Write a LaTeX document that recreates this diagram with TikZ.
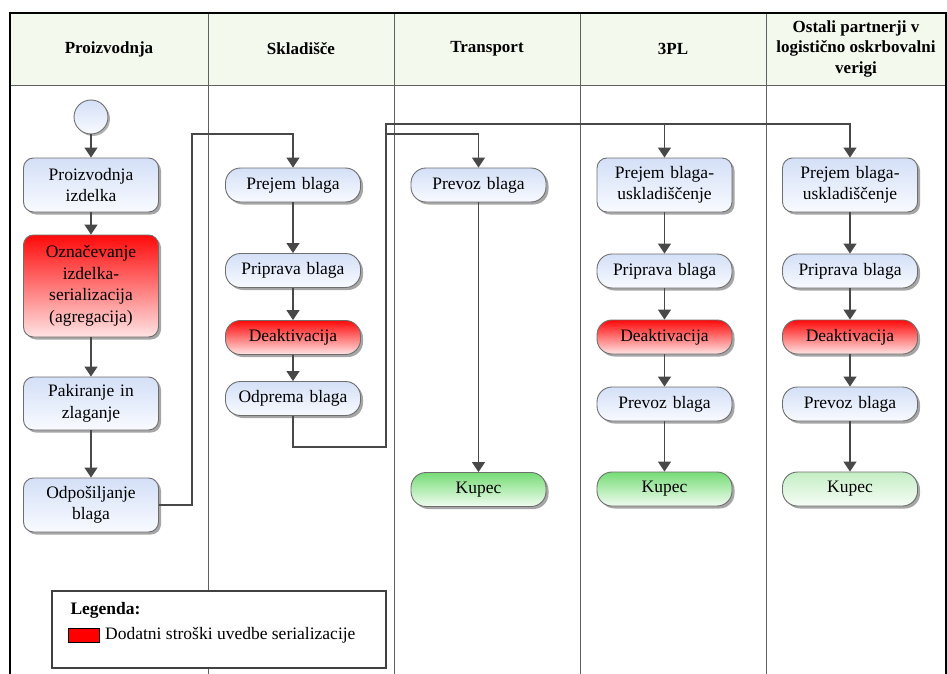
\documentclass[tikz,border=0pt]{standalone}
\usepackage{fontspec}
\setmainfont{Liberation Serif}
\usetikzlibrary{arrows.meta,shadows}

\definecolor{lanegray}{RGB}{96,96,96}
\definecolor{flowgray}{RGB}{72,72,72}
\definecolor{boxedge}{RGB}{110,110,110}
\definecolor{headfill}{RGB}{243,250,237}
\definecolor{bluetop}{RGB}{212,224,247}
\definecolor{bluebot}{RGB}{248,250,255}
\definecolor{redtop}{RGB}{255,10,10}
\definecolor{redbot}{RGB}{255,228,228}
\definecolor{greentop}{RGB}{118,220,118}
\definecolor{greenbot}{RGB}{240,252,240}
\definecolor{palegreentop}{RGB}{196,238,196}
\definecolor{palegreenbot}{RGB}{246,253,246}

\tikzset{
  every node/.style={font=\fontsize{17.5}{21.5}\selectfont},
  task/.style={draw=boxedge, line width=0.9pt, align=center, inner sep=0pt,
    minimum width=135pt, text width=132pt,
    drop shadow={shadow xshift=2.5pt, shadow yshift=-2.5pt, opacity=0.35, fill=black}},
  pill/.style={task, rounded corners=15pt, minimum height=34pt},
  tall/.style={task, rounded corners=10pt},
  bluefill/.style={top color=bluetop, bottom color=bluebot},
  redfill/.style={top color=redtop, bottom color=redbot},
  greenfill/.style={top color=greentop, bottom color=greenbot},
  palegreenfill/.style={top color=palegreentop, bottom color=palegreenbot},
  startnode/.style={circle, draw=boxedge, line width=0.9pt, minimum size=34pt, inner sep=0pt,
    top color=bluetop, bottom color=bluebot,
    drop shadow={shadow xshift=2pt, shadow yshift=-2pt, opacity=0.3, fill=black}},
  flow/.style={draw=flowgray, line width=1.3pt, -{Triangle[length=10pt,width=13pt]}},
  lane/.style={draw=lanegray, line width=0.9pt},
  header/.style={font=\fontsize{17}{20.5}\selectfont\bfseries, align=center},
}

\begin{document}
\begin{tikzpicture}[x=1pt, y=-1pt]
  \useasboundingbox (0,0) rectangle (947,674);
  \fill[white] (0,0) rectangle (947,674);

  % header band
  \fill[headfill] (10,13) rectangle (946,85);
  \draw[lane] (10,85) -- (946,85);

  % lane dividers
  \foreach \x in {208,394,580,766} \draw[lane] (\x,13) -- (\x,674);

  % outer frame
  \draw[black, line width=2pt] (10,680) -- (10,13) -- (946,13) -- (946,680);

  % lane titles
  \node[header] (h1) at (109,49) {Proizvodnja};
  \node[header] (h2) at (301,49) {Skladišče};
  \node[header] (h3) at (487,49) {Transport};
  \node[header] (h4) at (673,49) {3PL};
  \node[header] (h5) at (856,48.5) {Ostali partnerji v\\logistično oskrbovalni\\verigi};

  % Proizvodnja
  \node[startnode] (start) at (91,117) {};
  \node[tall, bluefill, minimum height=54pt] (n1) at (91,185) {Proizvodnja\\izdelka};
  \node[tall, redfill, minimum height=102pt] (n2) at (91,286) {Označevanje\\izdelka-\\serializacija\\(agregacija)};
  \node[tall, bluefill, minimum height=53pt] (n3) at (91,403.5) {Pakiranje in\\zlaganje};
  \node[tall, bluefill, minimum height=54pt] (n4) at (91,505) {Odpošiljanje\\blaga};

  % Skladišče
  \node[pill, bluefill] (s1) at (293,185) {Prejem blaga};
  \node[pill, bluefill] (s2) at (293,270.5) {Priprava blaga};
  \node[pill, redfill] (s3) at (293,337.5) {Deaktivacija};
  \node[pill, bluefill] (s4) at (293,398.5) {Odprema blaga};

  % Transport
  \node[pill, bluefill] (t1) at (478.5,185) {Prevoz blaga};
  \node[pill, greenfill] (t2) at (478.5,489.5) {Kupec};

  % 3PL
  \node[tall, bluefill, minimum height=54pt] (p1) at (664.5,185) {Prejem blaga-\\uskladiščenje};
  \node[pill, bluefill] (p2) at (664.5,271) {Priprava blaga};
  \node[pill, redfill] (p3) at (664.5,337) {Deaktivacija};
  \node[pill, bluefill] (p4) at (664.5,404) {Prevoz blaga};
  \node[pill, greenfill] (p5) at (664.5,489) {Kupec};

  % Ostali partnerji
  \node[tall, bluefill, minimum height=54pt] (o1) at (850,185) {Prejem blaga-\\uskladiščenje};
  \node[pill, bluefill] (o2) at (850,271) {Priprava blaga};
  \node[pill, redfill] (o3) at (850,337) {Deaktivacija};
  \node[pill, bluefill] (o4) at (850,404) {Prevoz blaga};
  \node[pill, palegreenfill] (o5) at (850,489) {Kupec};

  % flows within lanes
  \draw[flow] (start) -- (n1);
  \draw[flow] (n1) -- (n2);
  \draw[flow] (n2) -- (n3);
  \draw[flow] (n3) -- (n4);
  \draw[flow] (s1) -- (s2);
  \draw[flow] (s2) -- (s3);
  \draw[flow] (s3) -- (s4);
  \draw[flow] (t1) -- (t2);
  \draw[flow] (p1) -- (p2);
  \draw[flow] (p2) -- (p3);
  \draw[flow] (p3) -- (p4);
  \draw[flow] (p4) -- (p5);
  \draw[flow] (o1) -- (o2);
  \draw[flow] (o2) -- (o3);
  \draw[flow] (o3) -- (o4);
  \draw[flow] (o4) -- (o5);

  % flows between lanes
  \coordinate (k1) at (192,134);
  \draw[flow] (n4.east) -| (k1) -| (s1.north);

  \coordinate (j1) at (386,447);
  \coordinate (j2) at (386,124);
  \coordinate (j3) at (386,134);
  \draw[flow] (s4.south) |- (j1) -- (j2) -| (o1.north);
  \draw[flow] (j2) -| (p1.north);
  \draw[flow] (j3) -| (t1.north);

  % legend
  \node[draw=black!75, line width=1.1pt, fill=white, minimum width=334pt, minimum height=77pt,
        inner sep=0pt] (legend) at (219,629.5) {};
  \node[anchor=west, font=\fontsize{17.5}{20}\selectfont\bfseries] (legtitle) at (67,610) {Legenda:};
  \node[draw=black, line width=0.9pt, fill=red, minimum width=31pt, minimum height=14pt,
        inner sep=0pt] (swatch) at (83.5,635) {};
  \node[anchor=west, inner sep=0pt] (legtext) at (105,635.5) {Dodatni stroški uvedbe serializacije};
\end{tikzpicture}
\end{document}
